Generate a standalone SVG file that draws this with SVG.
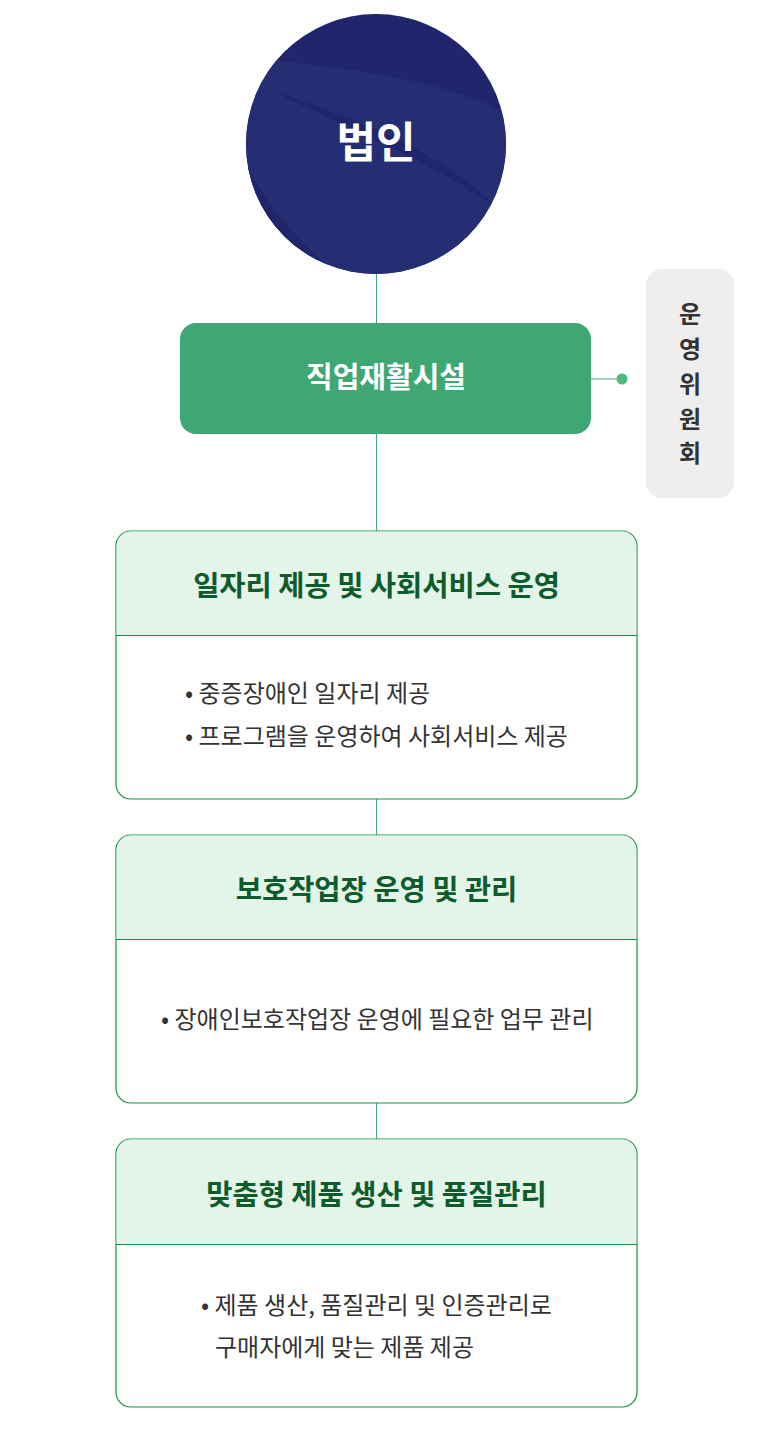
<svg xmlns="http://www.w3.org/2000/svg" width="768" height="1440" viewBox="0 0 768 1440">
<defs>
<clipPath id="cc"><circle cx="376" cy="144" r="130"/></clipPath>
<style>
.k{font-family:"Noto Sans CJK KR","Noto Sans",sans-serif}
.card{fill:#ffffff;stroke:#159043;stroke-width:1.2}
.hdr{fill:#e3f4e8}
.sep{stroke:#159043;stroke-width:1.2}
.ht{font-size:28.5px;font-weight:700;fill:#0e5b2c;text-anchor:middle}
.bt{font-size:24px;fill:#333333}
.ln{stroke:#3fa773;stroke-width:1;fill:none}
</style>
</defs>
<rect width="768" height="1440" fill="#ffffff"/>
<g id="connectors">
<line class="ln" x1="376.5" y1="274" x2="376.5" y2="323"/>
<line class="ln" x1="376.5" y1="434" x2="376.5" y2="531"/>
<line class="ln" x1="376.5" y1="799" x2="376.5" y2="835"/>
<line class="ln" x1="376.5" y1="1103" x2="376.5" y2="1139"/>
<line class="ln" x1="591" y1="379" x2="622" y2="379"/>
<circle cx="622" cy="379" r="5.5" fill="#4fba7c"/>
</g>
<g id="corp">
<circle cx="376" cy="144" r="130" fill="#1f266b"/>
<g clip-path="url(#cc)">
<path d="M270 60 C 360 70 450 80 520 120 L 520 300 L 230 300 L 230 60 Z" fill="#252d73"/>
<path d="M270 90 C 360 120 440 150 500 210 C 430 160 350 130 270 90 Z" fill="#1f266b"/>
<path d="M230 130 C 260 200 300 250 350 280 L 230 290 Z" fill="#1f266b"/>
</g>
<text class="k" x="376" y="158" font-size="43" font-weight="700" fill="#ffffff" text-anchor="middle">법인</text>
</g>
<g id="facility">
<rect x="180" y="323" width="411" height="111" rx="16" fill="#3fa773"/>
<text class="k" x="386" y="388" font-size="29" font-weight="700" fill="#ffffff" text-anchor="middle">직업재활시설</text>
</g>
<g id="committee">
<rect x="646" y="269" width="88" height="229" rx="16" fill="#eeeeee"/>
<g class="k" font-size="24" font-weight="700" fill="#333333" text-anchor="middle">
<text x="690" y="323">운</text>
<text x="690" y="358">영</text>
<text x="690" y="393">위</text>
<text x="690" y="428">원</text>
<text x="690" y="462">회</text>
</g>
</g>
<g id="card1">
<rect class="card" x="116" y="531" width="521" height="268" rx="15"/>
<path class="hdr" d="M131 531.6 H622 A14.4 14.4 0 0 1 636.4 546 V635 H116.6 V546 A14.4 14.4 0 0 1 131 531.6 Z"/>
<line class="sep" x1="116" y1="635.5" x2="637" y2="635.5"/>
<text class="k ht" x="376.5" y="596">일자리 제공 및 사회서비스 운영</text>
<text class="k bt" x="185" y="702">• 중증장애인 일자리 제공</text>
<text class="k bt" x="185" y="745">• 프로그램을 운영하여 사회서비스 제공</text>
</g>
<g id="card2">
<rect class="card" x="116" y="835" width="521" height="268" rx="15"/>
<path class="hdr" d="M131 835.6 H622 A14.4 14.4 0 0 1 636.4 850 V939 H116.6 V850 A14.4 14.4 0 0 1 131 835.6 Z"/>
<line class="sep" x1="116" y1="939.5" x2="637" y2="939.5"/>
<text class="k ht" x="376.5" y="900">보호작업장 운영 및 관리</text>
<text class="k bt" x="161" y="1028">• 장애인보호작업장 운영에 필요한 업무 관리</text>
</g>
<g id="card3">
<rect class="card" x="116" y="1139" width="521" height="268" rx="15"/>
<path class="hdr" d="M131 1139.6 H622 A14.4 14.4 0 0 1 636.4 1154 V1244 H116.6 V1154 A14.4 14.4 0 0 1 131 1139.6 Z"/>
<line class="sep" x1="116" y1="1244.5" x2="637" y2="1244.5"/>
<text class="k ht" x="376.5" y="1205">맞춤형 제품 생산 및 품질관리</text>
<text class="k bt" x="201" y="1314">• 제품 생산, 품질관리 및 인증관리로</text>
<text class="k bt" x="215" y="1356">구매자에게 맞는 제품 제공</text>
</g>
</svg>
